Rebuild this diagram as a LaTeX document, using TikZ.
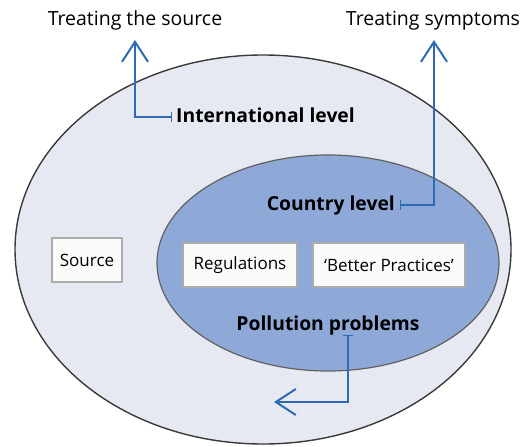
\documentclass[tikz,border=0pt]{standalone}
\usepackage{fontspec}
\setmainfont{Open Sans}
\usetikzlibrary{arrows.meta}
\definecolor{outerfill}{HTML}{E6E9F1}
\definecolor{innerfill}{HTML}{8EA9D8}
\definecolor{arrowblue}{HTML}{2E6BB4}
\definecolor{rim}{HTML}{3A3A3A}
\begin{document}
\begin{tikzpicture}[x=1pt,y=-1pt,
  lbl/.style={font=\fontsize{19.5}{22}\selectfont, inner sep=0pt},
  lvl/.style={font=\fontsize{19.3}{22}\selectfont\bfseries, inner sep=0pt},
  boxnode/.style={draw=gray!65, line width=1.5pt, fill=white!96!gray, inner sep=0pt,
     font=\fontsize{17}{20}\selectfont, minimum height=44pt},
  arr/.style={draw=arrowblue, line width=2pt,
     {Bar[width=10pt,line width=1pt]-Straight Barb[length=20pt,width=26pt,line width=2pt]}}]
\useasboundingbox (0,0) rectangle (526,446);
% ellipses
\draw[rim, line width=1.4pt, fill=outerfill] (263,249.5) ellipse [x radius=248, y radius=194.5];
\draw[rim!80, line width=1.2pt, fill=innerfill] (328,263) ellipse [x radius=171, y radius=108];
% titles
\node[lbl, anchor=base] (src) at (135,26) {Treating the source};
\node[lbl, anchor=base] (sym) at (433,26) {Treating symptoms};
% level labels
\node[lvl, anchor=base west] (intl) at (176,123) {International level};
\node[lvl, anchor=base east] (ctry) at (395,210) {Country level};
\node[lvl, anchor=base] (poll) at (328,330) {Pollution problems};
% boxes
\node[boxnode, minimum width=70pt] (source) at (87,260) {Source};
\node[boxnode, minimum width=114pt] (reg) at (240,265) {Regulations};
\node[boxnode, minimum width=152pt] (bp) at (389,265) {‘Better Practices’};
% arrows
\coordinate (b1) at (172,117);
\coordinate (t1) at (135,40);
\coordinate (b2) at (400,205);
\coordinate (t2) at (434,40);
\coordinate (p0) at (348,335);
\coordinate (t3) at (274,402);
\draw[arr] (b1) -| (t1);
\draw[arr] (b2) -| (t2);
\draw[arr] (p0) |- (t3);
\end{tikzpicture}
\end{document}
